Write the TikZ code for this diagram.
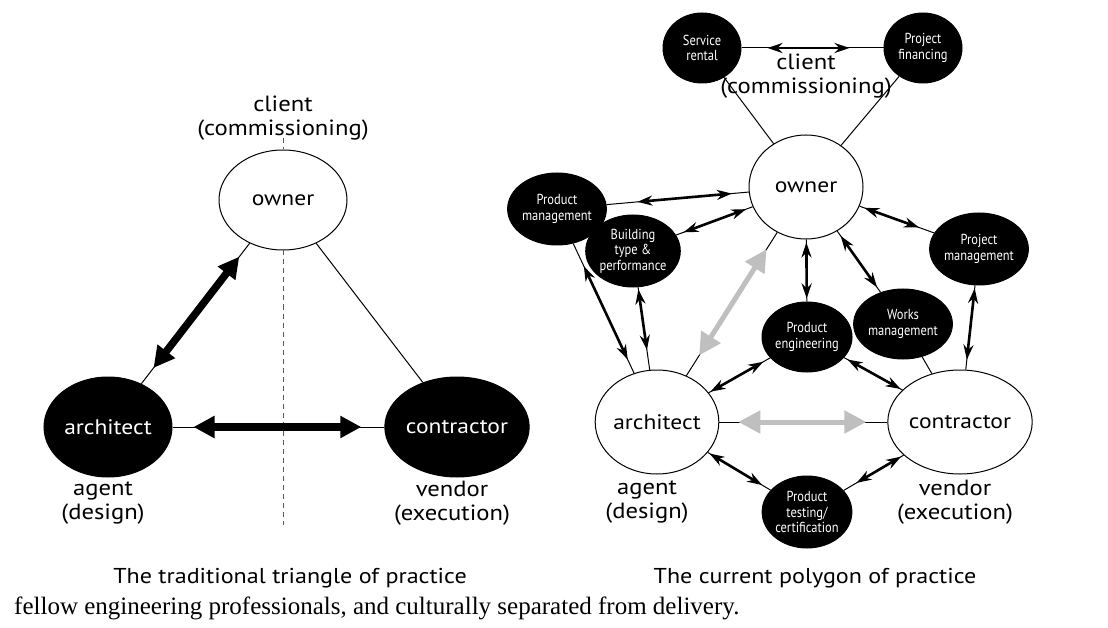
\documentclass[tikz,border=0pt]{standalone}
\usepackage{fontspec}
\setmainfont{Liberation Serif}
\newfontfamily\labelfont[FakeStretch=1.12]{PT Sans}
\newfontfamily\smallfont[FakeStretch=0.86]{PT Sans}
\usetikzlibrary{shapes.geometric,arrows.meta}
\tikzset{
  big/.style={ellipse,draw,line width=1pt,minimum width=128pt,minimum height=100pt,
    inner sep=0pt,font=\labelfont\fontsize{21}{21}\selectfont},
  bigdark/.style={big,fill=black,text=white},
  bigwhite/.style={big,fill=white,minimum width=114pt,minimum height=104pt},
  small/.style={ellipse,draw,fill=black,text=white,line width=1pt,minimum width=80pt,
    minimum height=72pt,inner sep=0pt,align=center,font=\smallfont\fontsize{14.5}{15.5}\selectfont},
  label/.style={align=center,font=\labelfont\fontsize{22}{23.5}\selectfont},
  caption/.style={font=\labelfont\fontsize{21.5}{21.5}\selectfont},
  thin/.style={line width=1pt},
  heavy/.style={line width=7.5pt,{Triangle[length=21pt,width=21pt]}-{Triangle[length=21pt,width=21pt]}},
  grayarr/.style={line width=5pt,draw=gray!50,{Triangle[length=22pt,width=22pt]}-{Triangle[length=22pt,width=22pt]}},
  dbl/.style={line width=2.6pt,{Stealth[length=15pt,width=10pt]}-{Stealth[length=15pt,width=10pt]}}
}
\begin{document}
\begin{tikzpicture}[x=1pt,y=-1pt]
  \useasboundingbox (0,0) rectangle (1108,628);
  % traditional triangle
  \node[label] (lclient) at (283,118) {client\\(commissioning)};
  \node[big,fill=white] (lowner) at (283,200) {owner};
  \node[bigdark] (larch) at (108,427) {architect};
  \node[bigdark] (lcontr) at (457,427) {contractor};
  \node[label] (lagent) at (103,503) {agent\\(design)};
  \node[label] (lvendor) at (452,503) {vendor\\(execution)};
  \node[caption] (lcap) at (290,578) {The traditional triangle of practice};
  \coordinate (ltop) at (283,138);
  \coordinate (lbot) at (283,525);
  \begin{scope}[thin]
    \draw[gray!70!black,dash pattern=on 5pt off 4pt] (ltop) -- (lowner.north);
    \draw[gray!70!black,dash pattern=on 5pt off 4pt] (lowner.south) -- (lbot);
    \draw (larch) -- (lowner);
    \draw (larch) -- (lcontr);
    \draw (lowner) -- (lcontr);
  \end{scope}
  \draw[heavy,shorten <=20pt,shorten >=17pt] (larch) -- (lowner);
  \draw[heavy,shorten <=21pt,shorten >=23pt] (larch) -- (lcontr);
  % current polygon
  \node[bigwhite] (owner) at (806,187) {owner};
  \node[bigwhite] (arch) at (657,422) {architect};
  \node[bigwhite] (contr) at (960,422) {contractor};
  \node[small,minimum width=78pt,minimum height=70pt] (rental) at (702,48) {Service\\rental};
  \node[small,minimum width=78pt,minimum height=70pt] (financing) at (923,48) {Project\\financing};
  \node[small] (prodman) at (557,209) {Product\\management};
  \node[small] (building) at (633,251) {Building\\type \&\\performance};
  \node[small,minimum width=78pt] (projman) at (979,249) {Project\\management};
  \node[small,minimum height=70pt] (prodeng) at (807,337) {Product\\engineering};
  \node[small,minimum height=70pt] (works) at (903,324) {Works\\management};
  \node[small] (testing) at (807,512) {Product\\testing/\\certification};
  \node[label] (rclient) at (806,76) {client\\(commissioning)};
  \node[label] (ragent) at (647,502) {agent\\(design)};
  \node[label] (rvendor) at (955,502) {vendor\\(execution)};
  \node[caption] (rcap) at (815,578) {The current polygon of practice};
  \begin{scope}[thin]
    \draw (rental) -- (financing);
    \draw (rental) -- (owner);
    \draw (financing) -- (owner);
    \draw (prodman) -- (owner);
    \draw (building) -- (owner);
    \draw (owner) -- (projman);
    \draw (owner) -- (prodeng);
    \draw (owner) -- (works);
    \draw (projman) -- (contr);
    \draw (prodman) -- (arch);
    \draw (building) -- (arch);
    \draw (arch) -- (owner);
    \draw (arch) -- (contr);
    \draw (arch) -- (prodeng);
    \draw (prodeng) -- (contr);
    \draw (works) -- (contr);
    \draw (arch) -- (testing);
    \draw (testing) -- (contr);
  \end{scope}
  \draw[dbl,shorten <=26pt,shorten >=34pt] (rental) -- (financing);
  \draw[dbl,shorten <=31pt,shorten >=17pt] (prodman) -- (owner);
  \draw[dbl,shorten <=8pt,shorten >=7pt] (building) -- (owner);
  \draw[dbl,shorten <=5pt,shorten >=16pt] (owner) -- (projman);
  \draw[dbl,shorten <=3pt,shorten >=3pt] (owner) -- (prodeng);
  \draw[dbl,shorten <=6pt,shorten >=6pt] (owner) -- (works);
  \draw[dbl,shorten <=3pt,shorten >=10pt] (projman) -- (contr);
  \draw[dbl,shorten <=25pt,shorten >=15pt] (prodman) -- (arch);
  \draw[dbl,shorten <=2pt,shorten >=20pt] (building) -- (arch);
  \draw[dbl,shorten <=2pt,shorten >=8pt] (arch) -- (prodeng);
  \draw[dbl,shorten <=4pt,shorten >=2pt] (prodeng) -- (contr);
  \draw[dbl,shorten <=2pt,shorten >=10pt] (arch) -- (testing);
  \draw[dbl,shorten <=15pt,shorten >=3pt] (testing) -- (contr);
  \draw[grayarr,shorten <=24pt,shorten >=20pt] (arch) -- (owner);
  \draw[grayarr,shorten <=19pt,shorten >=21pt] (arch) -- (contr);
  % running text below
  \node[anchor=base west,inner sep=0pt,font=\fontsize{25}{25}\selectfont] (text) at (14,614)
    {fellow engineering professionals, and culturally separated from delivery.};
\end{tikzpicture}
\end{document}
